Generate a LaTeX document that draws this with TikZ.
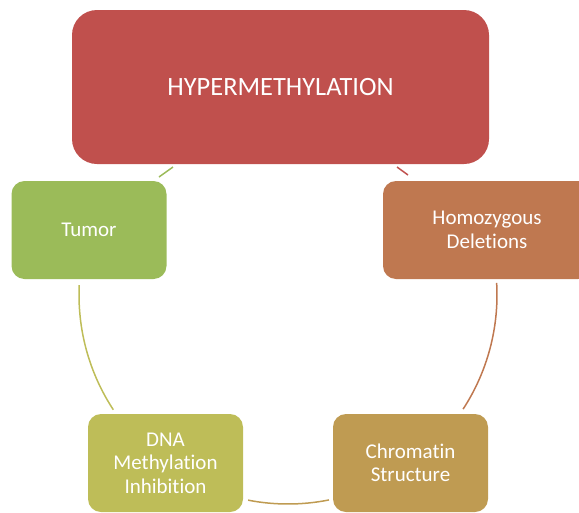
\documentclass[tikz,border=0pt]{standalone}
\usepackage{fontspec}
\setmainfont[RawFeature={-liga}]{Carlito}
\usetikzlibrary{calc}
\definecolor{cred}{HTML}{C0504D}
\definecolor{cgreen}{HTML}{9BBB59}
\definecolor{corange}{HTML}{BF7850}
\definecolor{cgold}{HTML}{BF9B52}
\definecolor{colive}{HTML}{BEBD58}
\begin{document}
\begin{tikzpicture}[x=1pt,y=1pt,
  box/.style={draw=none,rounded corners=13pt,inner sep=0pt,text=white,align=center,
    font=\fontsize{21}{23.5}\selectfont,minimum height=98pt,minimum width=155pt},
  conn/.style={line width=1.5pt}]
\useasboundingbox (0,0) rectangle (579,-512);
\clip (0,0) rectangle (579,-512);
\node[box,fill=cred,minimum width=417pt,minimum height=154pt,rounded corners=25pt,
  font=\fontsize{26.4}{30}\selectfont] (hyper) at (280.5,-87) {HYPERMETHYLATION};
\node[box,fill=cgreen] (tumor) at (89,-230) {Tumor};
\node[box,fill=corange,minimum width=208pt] (homo) at (487,-230) {Homozygous\\Deletions};
\node[box,fill=colive] (dna) at (165.5,-463) {DNA\\Methylation\\Inhibition};
\node[box,fill=cgold] (chrom) at (410.5,-463) {Chromatin\\Structure};
% circle centre (288,-295), radius 209
\coordinate (cc) at (288,-295);
\coordinate (g1) at (159,-177);
\coordinate (g2) at (173,-167);
\coordinate (r1) at (397,-167);
\coordinate (r2) at (408,-175);
\coordinate (rs) at ($(cc)+(3.3:209)$);
\coordinate (bs) at ($(cc)+(-101:209)$);
\coordinate (ls) at ($(cc)+(177.3:209)$);
\draw[conn,draw=cgreen] (g1) -- (g2);
\draw[conn,draw=cred] (r1) -- (r2);
\draw[conn,draw=corange] (rs) arc[start angle=3.3,end angle=-33.1,radius=209];
\draw[conn,draw=cgold] (bs) arc[start angle=-101,end angle=-78.7,radius=209];
\draw[conn,draw=colive] (ls) arc[start angle=177.3,end angle=213.3,radius=209];
\end{tikzpicture}
\end{document}
